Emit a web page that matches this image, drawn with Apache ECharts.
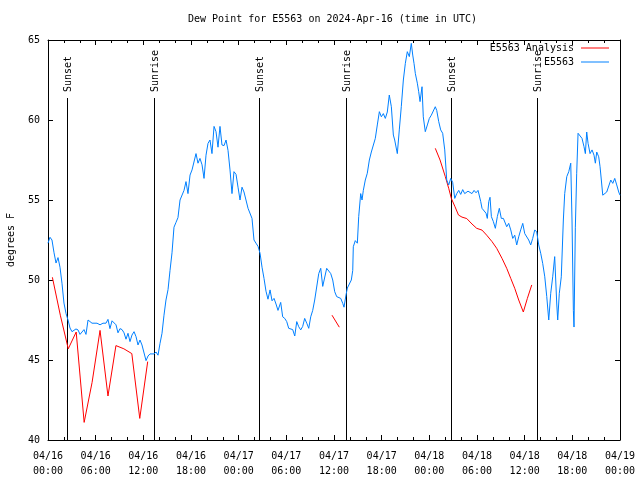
<!DOCTYPE html>
<html>
<head>
<meta charset="utf-8">
<script src="https://cdn.jsdelivr.net/npm/echarts@6/dist/echarts.min.js"></script>
<style>html,body{margin:0;padding:0;background:#fff}#c{width:640px;height:480px}</style>
</head>
<body>
<div id="c"></div>
<script>
// Hours since 2024-04-16 00:00 UTC
const xTickLabels = ['04/16\n00:00','04/16\n06:00','04/16\n12:00','04/16\n18:00','04/17\n00:00','04/17\n06:00','04/17\n12:00','04/17\n18:00','04/18\n00:00','04/18\n06:00','04/18\n12:00','04/18\n18:00','04/19\n00:00'];
const yTickLabels = ['40','45','50','55','60','65'];

const sunHours = [2.43, 13.38, 26.6, 37.55, 50.77, 61.6];
const sunLabels = ['Sunset','Sunrise','Sunset','Sunrise','Sunset','Sunrise'];

const blueHours = [0,0.25,0.50,0.76,1.01,1.26,1.51,1.76,2.01,2.27,2.52,2.77,3.02,3.27,3.52,3.78,4.03,4.28,4.53,4.78,5.04,5.29,5.54,5.79,6.17,6.55,6.92,7.30,7.55,7.80,8.06,8.31,8.56,8.81,9.06,9.32,9.57,9.82,10.07,10.32,10.57,10.83,11.08,11.33,11.58,11.83,12.08,12.34,12.59,12.84,13.09,13.34,13.60,13.85,14.10,14.35,14.60,14.85,15.11,15.36,15.61,15.86,16.11,16.36,16.62,16.87,17.12,17.37,17.62,17.88,18.13,18.38,18.63,18.88,19.13,19.39,19.64,19.89,20.14,20.39,20.64,20.90,21.15,21.40,21.65,21.90,22.16,22.41,22.66,22.91,23.16,23.41,23.67,23.92,24.17,24.42,24.67,24.92,25.18,25.43,25.68,25.93,26.18,26.44,26.69,26.94,27.19,27.44,27.69,27.95,28.20,28.45,28.70,28.95,29.29,29.54,29.80,30.05,30.30,30.55,30.80,31.06,31.31,31.56,31.81,32.06,32.31,32.57,32.82,33.07,33.32,33.57,33.82,34.08,34.33,34.58,34.83,35.08,35.33,35.59,35.84,36.09,36.34,36.59,36.85,37.10,37.26,37.51,37.68,37.93,38.18,38.36,38.43,38.68,38.94,39.11,39.36,39.53,39.69,39.94,40.19,40.45,40.70,40.95,41.20,41.45,41.71,41.96,42.21,42.46,42.71,42.96,43.22,43.47,43.64,43.81,43.97,44.22,44.47,44.73,44.98,45.23,45.48,45.73,45.91,46.07,46.24,46.49,46.66,46.83,47.08,47.24,47.49,47.75,48.00,48.25,48.50,48.75,48.93,49.18,49.43,49.68,49.94,50.19,50.44,50.69,50.94,51.20,51.45,51.70,51.95,52.20,52.45,52.62,52.87,53.12,53.37,53.63,53.88,54.13,54.29,54.47,54.63,54.88,55.14,55.30,55.48,55.64,55.81,56.06,56.31,56.56,56.81,57.06,57.32,57.57,57.74,57.99,58.25,58.50,58.75,59.00,59.25,59.50,59.76,60.01,60.26,60.51,60.76,61.01,61.27,61.52,61.77,62.02,62.27,62.53,62.78,63.03,63.28,63.53,63.78,64.04,64.16,64.36,64.61,64.87,65.04,65.30,65.55,65.80,65.96,66.13,66.21,66.38,66.55,66.72,66.97,67.22,67.47,67.64,67.81,67.98,68.23,68.48,68.73,68.90,69.07,69.32,69.49,69.65,69.83,70.08,70.33,70.58,70.84,71.09,71.34,71.59,71.84,72.00];
const blueValues = [52.3,52.67,52.5,51.7,51.06,51.4,50.8,49.8,48.56,47.9,47.5,47.0,46.77,46.7,46.94,46.88,46.6,46.6,46.9,46.6,47.5,47.55,47.3,47.3,47.3,47.2,47.3,47.3,47.54,46.96,47.45,47.5,47.2,46.7,46.96,46.9,46.7,46.3,46.67,46.15,46.56,46.77,46.46,45.94,46.25,45.94,45.83,44.96,45.25,45.38,45.5,45.38,45.5,45.3,46.04,46.67,47.8,48.75,49.4,50.6,51.7,53.3,53.6,53.9,55.0,55.06,55.6,56.15,55.4,56.56,56.88,56.8,57.9,57.3,57.6,57.2,56.35,57.8,58.54,58.75,57.9,59.6,59.27,58.3,59.6,58.44,58.4,58.75,58.1,56.88,55.4,56.77,56.6,55.8,55.0,55.8,55.5,55.0,54.48,54.4,53.85,52.5,52.3,52.1,51.67,50.8,50.1,49.3,48.8,49.38,48.7,48.85,48.5,48.1,48.6,47.7,47.6,47.4,46.98,46.94,46.9,46.5,47.4,47.08,46.88,47.1,47.6,47.3,46.98,47.7,48.1,48.75,48.7,50.4,50.73,49.6,49.6,50.73,50.73,50.4,50.0,49.27,48.96,48.96,48.85,48.54,48.3,49.06,49.5,49.4,50.0,50.6,52.08,52.46,52.3,53.96,55.4,55.0,55.6,56.25,56.67,57.5,58.0,57.9,58.85,59.69,60.52,60.2,60.4,60.1,60.5,61.56,60.83,59.06,58.75,58.75,57.9,59.38,60.83,62.5,63.54,64.27,63.96,64.79,64.06,63.54,62.9,62.3,61.77,61.15,62.08,60.2,59.27,59.69,60.1,60.3,60.4,60.83,60.6,59.9,59.38,59.17,58.13,56.25,55.94,56.35,56.1,55.1,55.4,55.6,55.35,55.65,55.4,55.4,55.55,55.67,55.4,55.6,55.45,55.6,55.7,54.9,54.48,54.48,54.17,53.85,54.9,55.17,53.96,53.65,53.23,53.96,54.48,53.85,53.85,53.75,53.33,53.54,53.13,52.6,52.8,52.19,52.7,53.13,53.54,52.9,52.8,52.5,52.19,52.6,53.13,53.0,52.19,51.67,51.04,50.2,48.96,47.5,49.17,50.2,51.46,48.5,47.5,49.17,50.2,53.75,55.4,56.46,56.77,57.3,53.75,48.1,47.06,53.3,56.67,59.17,59.17,58.85,58.33,57.9,59.25,58.54,57.9,58.13,57.8,57.3,58.0,57.7,57.08,56.25,55.3,55.2,55.5,55.5,56.25,56.04,56.35,55.94,55.5,55.3];

const redHours1 = [0.55,1.55,2.55,3.55,4.55,5.55,6.55,7.55,8.55,9.55,10.55,11.55,12.55];
const redValues1 = [50.17,47.8,45.7,46.75,41.1,43.6,46.85,42.75,45.9,45.7,45.4,41.35,44.9];
const redHours2 = [35.75,36.67];
const redValues2 = [47.8,47.05];
const redHours3 = [48.75,49.35,50.01,50.44,50.77,51.23,51.67,52.11,52.71,53.37,53.96,54.63,55.22,55.89,56.48,57.15,57.74,58.25,58.75,59.25,59.83,60.34,60.89];
const redValues3 = [58.23,57.5,56.46,55.73,55.1,54.58,54.06,53.93,53.84,53.5,53.23,53.12,52.8,52.4,51.98,51.35,50.73,50.1,49.48,48.75,48.0,48.85,49.69];

const FONT = 'DejaVu Sans Mono';
const RED = '#ff0000';
const BLUE = '#0080ff';

function pairs(xs, ys) { return xs.map((x, i) => [x, ys[i]]); }

const chart = echarts.init(document.getElementById('c'), null, {renderer: 'canvas'});

function xAxisBase(pos, showLabel) {
  return {
    type: 'value', position: pos, min: 0, max: 72, interval: 6,
    axisLine: {show: true, onZero: false, lineStyle: {color: '#000', width: 1}},
    axisTick: {show: true, inside: true, length: 5, lineStyle: {color: '#000'}},
    minorTick: {show: true, splitNumber: 3, length: 3, lineStyle: {color: '#000'}},
    splitLine: {show: false},
    axisLabel: {
      show: showLabel, color: '#000', fontFamily: FONT, fontSize: 10, lineHeight: 15, margin: 9,
      showMinLabel: true, showMaxLabel: true,
      formatter: v => xTickLabels[Math.round(v / 6)]
    }
  };
}
function yAxisBase(pos, showLabel) {
  return {
    type: 'value', position: pos, min: 40, max: 65, interval: 5,
    axisLine: {show: true, onZero: false, lineStyle: {color: '#000', width: 1}},
    axisTick: {show: true, inside: true, length: 5, lineStyle: {color: '#000'}},
    splitLine: {show: false},
    axisLabel: {
      show: showLabel, color: '#000', fontFamily: FONT, fontSize: 10, margin: 8,
      formatter: v => yTickLabels[Math.round((v - 40) / 5)]
    }
  };
}

const yLeft = yAxisBase('left', true);
yLeft.name = 'degrees F';
yLeft.nameLocation = 'middle';
yLeft.nameRotate = 90;
yLeft.nameGap = 32;
yLeft.nameTextStyle = {color: '#000', fontFamily: FONT, fontSize: 10};

const redLine = {color: RED, width: 1};
const redSeries = [[redHours1, redValues1], [redHours2, redValues2], [redHours3, redValues3]].map(([h, v]) => ({
  name: 'E5563 Analysis', type: 'line', data: pairs(h, v), showSymbol: false, symbol: 'none',
  lineStyle: redLine, itemStyle: {color: RED}, z: 3
}));

const option = {
  animation: false,
  backgroundColor: '#fff',
  textStyle: {fontFamily: FONT},
  title: {
    text: 'Dew Point for E5563 on 2024-Apr-16 (time in UTC)',
    left: 188, top: 14, padding: 0,
    textStyle: {color: '#000', fontFamily: FONT, fontSize: 10, fontWeight: 'normal'}
  },
  legend: {
    orient: 'vertical', right: 31, top: 41, align: 'right', padding: 0,
    itemWidth: 28, itemHeight: 1, itemGap: 0, icon: 'rect',
    data: ['E5563 Analysis', 'E5563'],
    textStyle: {color: '#000', fontFamily: FONT, fontSize: 10, lineHeight: 14, padding: [0, 2, 0, 0]}
  },
  grid: {left: 48, right: 20, top: 40, bottom: 40, containLabel: false, outerBoundsMode: 'none'},
  xAxis: [xAxisBase('bottom', true), xAxisBase('top', false)],
  yAxis: [yLeft, yAxisBase('right', false)],
  series: [
    {
      name: 'sun', type: 'custom', silent: true, z: 1,
      data: sunHours.map((h, i) => [h, sunLabels[i]]),
      renderItem: function (params, api) {
        const h = api.value(0);
        const bottom = api.coord([h, 40]);
        const topEdge = api.coord([h, 65]);
        const x = Math.round(bottom[0]) + 0.5;
        const yTop = topEdge[1] + 58;
        return {
          type: 'group',
          children: [
            {type: 'line', shape: {x1: x, y1: yTop, x2: x, y2: bottom[1]}, style: {stroke: '#000', lineWidth: 1}},
            {type: 'text', x: x + 1, y: yTop - 6, rotation: Math.PI / 2,
             style: {text: sunLabels[params.dataIndex], fill: '#000', font: '10px ' + FONT, align: 'left', verticalAlign: 'middle'}}
          ]
        };
      }
    },
    ...redSeries,
    {
      name: 'E5563', type: 'line', data: pairs(blueHours, blueValues), showSymbol: false, symbol: 'none',
      lineStyle: {color: BLUE, width: 1}, itemStyle: {color: BLUE}, z: 4
    }
  ]
};
chart.setOption(option);
</script>
</body>
</html>
